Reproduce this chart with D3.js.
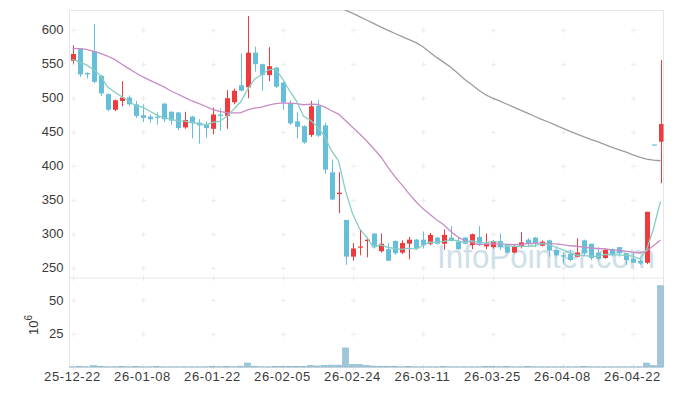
<!DOCTYPE html>
<html><head><meta charset="utf-8">
<script src="https://cdn.jsdelivr.net/npm/d3@7/dist/d3.min.js"></script>
<style>
body{margin:0;background:#fff}
svg{display:block}
text{font-family:"Liberation Sans",Arial,sans-serif}
</style>
</head><body>
<svg id="chart" width="673" height="396"></svg>
<script>
const dates = ["25-12-22","25-12-23","25-12-24","25-12-26","25-12-29","25-12-30","26-01-02","26-01-05","26-01-06","26-01-07",
"26-01-08","26-01-09","26-01-12","26-01-13","26-01-14","26-01-15","26-01-16","26-01-19","26-01-20","26-01-21",
"26-01-22","26-01-23","26-01-26","26-01-27","26-01-28","26-01-29","26-01-30","26-02-02","26-02-03","26-02-04",
"26-02-05","26-02-06","26-02-09","26-02-10","26-02-11","26-02-12","26-02-13","26-02-19","26-02-20","26-02-23",
"26-02-24","26-02-25","26-02-26","26-02-27","26-03-03","26-03-04","26-03-05","26-03-06","26-03-09","26-03-10",
"26-03-11","26-03-12","26-03-13","26-03-16","26-03-17","26-03-18","26-03-19","26-03-20","26-03-23","26-03-24",
"26-03-25","26-03-26","26-03-27","26-03-30","26-03-31","26-04-01","26-04-02","26-04-03","26-04-06","26-04-07",
"26-04-08","26-04-09","26-04-10","26-04-13","26-04-14","26-04-15","26-04-16","26-04-17","26-04-20","26-04-21",
"26-04-22","26-04-23","26-04-24","26-04-27","26-04-28"];

const open  = [554,572,536,568,532,505,482,495,500,490,474,472,472,491,479,478,456,472,463,461,
454,475,473,493,518,515,566,549,533,544,522,492,465,458,445,488,459,390,358,320,
266,280,289,300,274,277,289,272,285,291,291,285,294,285,294,288,294,283,295,281,
280,289,281,272,281,291,294,282,290,276,268,270,266,290,285,272,264,277,280,271,
263,260,257,431,435];
const high  = [577,573,537,608,533,506,497,524,503,495,490,475,478,492,480,479,479,473,468,465,
485,484,511,513,565,620,575,550,574,545,523,496,479,459,495,496,463,409,390,320,
286,306,294,300,300,286,290,290,295,292,303,301,295,306,311,295,295,300,311,300,
290,300,283,283,302,293,295,290,291,276,272,276,293,291,285,280,278,278,280,271,
271,263,332,431,555];
const low   = [550,530,528,521,502,480,480,487,487,470,464,463,460,464,460,452,454,440,432,441,
446,451,454,490,509,499,538,510,524,514,482,460,440,432,442,442,388,349,330,254,
260,268,265,278,272,260,269,270,262,276,278,283,284,276,288,276,284,277,282,277,
278,276,271,271,278,280,280,281,266,266,256,259,265,268,261,261,263,266,266,254,
257,254,255,431,374];
const close = [564,534,534,523,506,482,496,500,490,473,470,468,471,468,466,455,467,462,459,455,
475,473,499,510,510,566,549,533,546,516,493,462,457,434,487,444,394,350,360,266,
278,281,291,282,285,260,271,286,291,278,283,298,285,298,289,277,285,299,285,285,
288,280,272,281,287,285,285,288,275,268,266,261,272,271,264,263,276,269,271,261,
257,256,332,431,461];
// volume in millions of shares
const volume = [0.2,0.6,0.2,1.0,0.6,0.2,0.2,0.5,0.2,0.5,0.2,0.2,0.5,0.2,0.2,0.2,0.2,0.2,0.2,0.2,
0.5,0.2,0.5,0.2,0.6,3.0,0.6,0.2,0.2,0.5,0.5,0.5,0.5,0.5,1.2,0.8,1.3,1.4,1.4,14.3,
2.0,2.0,1.3,0.7,0.6,0.6,0.6,0.2,0.5,0.2,0.2,0.2,0.2,0.5,0.2,0.2,0.2,0.2,0.2,0.5,
0.5,0.2,0.5,0.2,0.2,0.5,0.2,0.2,0.2,0.2,0.2,0.2,0.2,0.5,0.2,0.2,0.2,0.2,0.2,0.2,
0.2,0.2,3.0,1.0,61.0];
const ma5 = [556,552,548,541,532.2,515.8,508.2,501.4,494.8,488.2,485.8,480.2,474.4,470,468.6,465.6,465.4,463.6,461.8,459.6,
463.6,464.8,472.2,482.4,493.4,511.6,526.8,533.6,540.8,542,527.4,510,494.8,472.4,466.6,456.8,443.2,421.8,407,362.8,
329.6,307,295.2,279.6,283.4,279.8,277.8,276.8,278.6,277.2,281.8,287.2,287,288.4,290.6,289.4,286.8,289.6,287,286.2,
288.4,287.4,282,281.2,281.6,281,282,285.2,284,280.2,276.4,271.6,268.4,267.6,266.8,266.2,269.2,268.6,268.6,268,
266.8,262.8,275.4,307.4,347.4];
const ma20 = [572.3,571.8,570.8,567.9,565,561,556.1,549.3,542.9,536.5,530.6,525.7,520.8,516,510,505.2,500.3,495.3,491.4,487.2,
482.7,479.7,477.9,477.3,477.5,481.7,484.3,486,488.8,490.9,492.1,491.8,491.1,489.4,490.4,489.9,486.2,480.6,475.7,466.2,
456.4,446.8,436.4,425,413.7,398.4,384.5,372.2,359.4,347.5,337,328.8,320.2,313.4,303.5,295.2,289.7,287.2,283.4,284.4,
284.9,284.8,283.9,283.8,283.9,285.2,285.9,286,285.2,284.7,283.8,282,281.3,280,278.7,278,277.6,276.1,275.4,274.2,
272.6,271.4,274.4,281.9,290.6];
const ma60 = [null,null,null,null,null,null,null,null,null,null,null,null,null,null,null,null,null,null,null,null,
null,null,null,null,null,null,null,null,null,null,null,null,null,null,null,null,null,null,633,628.5,
624,619,614,609,604,599,594.5,590,585.5,581,575,567,559,552,545,536,527,519,511,504,
499,495,490.5,486,481.5,477,472.5,468,464,459.5,455,450.5,446.5,442.5,438.5,435,431,427,423.5,420,
416,412.5,409.5,408,407];
const priceTicks = [250,300,350,400,450,500,550,600];
const volumeTicks = [25,50];
const dateTicks = ["25-12-22","26-01-08","26-01-22","26-02-05","26-02-24","26-03-11","26-03-25","26-04-08","26-04-22"];

const bars = dates.map((d,i)=>({d, o:open[i], h:high[i], l:low[i], c:close[i], v:volume[i], m5:ma5[i], m20:ma20[i], m60:ma60[i]}));

const svg = d3.select("#chart");
const L = 69.5, R = 663.5, T = 10.5, MID = 278, B = 367;
const x = d3.scaleBand().domain(dates).range([69, 664]).padding(0);
const xc = d => x(d) + x.bandwidth()/2;
const yP = d3.scaleLinear().domain([234.6, 628.7]).range([MID, 10]);
const yV = d3.scaleLinear().domain([0, 66.8]).range([B, MID]);

const RED = "#ef3b3e", BLUE = "#66bfd8", GRID = "#ececec";

svg.append("defs").append("clipPath").attr("id","clipP")
  .append("rect").attr("x",L).attr("y",10).attr("width",R-L).attr("height",MID-10);

// grid crosses
const gGrid = svg.append("g").attr("stroke",GRID).attr("stroke-width",1);
const crossAt = (cx, cy) => {
  gGrid.append("line").attr("x1",cx-2.5).attr("x2",cx+2.5).attr("y1",cy).attr("y2",cy);
  gGrid.append("line").attr("x1",cx).attr("x2",cx).attr("y1",cy-2.5).attr("y2",cy+2.5);
};
dateTicks.forEach(dt => {
  const cx = Math.round(xc(dt)) + 0.5;
  priceTicks.forEach(p => crossAt(cx, Math.round(yP(p)) + 0.5));
  volumeTicks.forEach(v => crossAt(cx, Math.round(yV(v)) + 0.5));
  gGrid.append("line").attr("x1",cx).attr("x2",cx).attr("y1",MID-3).attr("y2",MID+3);
  gGrid.append("line").attr("x1",cx).attr("x2",cx).attr("y1",B-3).attr("y2",B+3);
});

// panel frame
const gF = svg.append("g").attr("stroke","#e6e6e6").attr("fill","none");
gF.append("rect").attr("x",L).attr("y",T).attr("width",R-L).attr("height",MID-T);
gF.append("line").attr("x1",L).attr("x2",R).attr("y1",B+0.5).attr("y2",B+0.5).attr("stroke","#dcdcdc");
gF.append("line").attr("x1",L).attr("x2",L).attr("y1",MID).attr("y2",B);
gF.append("line").attr("x1",R).attr("x2",R).attr("y1",MID).attr("y2",B);

// watermark
svg.append("text").attr("x",437).attr("y",268)
  .attr("font-size",34).attr("textLength",218).attr("lengthAdjust","spacingAndGlyphs")
  .attr("fill","#c3d8e5").attr("opacity",0.8)
  .style("font-family","'Liberation Sans Narrow','Liberation Sans',sans-serif")
  .text("InfoPointer.com");

// candles
const gC = svg.append("g").attr("clip-path","url(#clipP)");
const cg = gC.selectAll("g.c").data(bars).join("g")
  .attr("stroke", d => d.c > d.o ? RED : BLUE)
  .attr("fill", d => d.c > d.o ? RED : BLUE);
cg.append("line")
  .attr("x1", d => Math.round(xc(d.d)) + 0.5).attr("x2", d => Math.round(xc(d.d)) + 0.5)
  .attr("y1", d => yP(d.h)).attr("y2", d => yP(d.l));
cg.append("rect")
  .attr("stroke","none")
  .attr("x", d => Math.round(xc(d.d)) - 2)
  .attr("width", 5)
  .attr("y", d => yP(Math.max(d.o,d.c)))
  .attr("height", d => Math.max(1.2, Math.abs(yP(d.o) - yP(d.c))));

// moving averages
const line = key => d3.line().defined(d => d[key] != null).x(d => xc(d.d)).y(d => yP(d[key]));
const gM = svg.append("g").attr("clip-path","url(#clipP)").attr("fill","none").attr("stroke-width",1.3);
gM.append("path").datum(bars).attr("d", line("m60")).attr("stroke","#9c9c9c");
gM.append("path").datum(bars).attr("d", line("m20")).attr("stroke","#c98bc6");
gM.append("path").datum(bars).attr("d", line("m5")).attr("stroke","#86cdc4");

// volume bars
svg.append("g").selectAll("rect").data(bars).join("rect")
  .attr("x", d => x(d.d) + 0.5).attr("width", x.bandwidth() - 1)
  .attr("y", d => yV(d.v)).attr("height", d => B - yV(d.v))
  .attr("fill","#9fc6d9").attr("stroke","#8ab8cf").attr("stroke-width",0.6);

// axes
const styleAxis = g => {
  g.select(".domain").remove();
  g.selectAll("text").attr("fill","#3a3a3a").attr("font-size",13)
    .style("font-family","'Liberation Sans',Arial,sans-serif");
};
svg.append("g").attr("transform",`translate(${L},0)`)
  .call(d3.axisLeft(yP).tickValues(priceTicks).tickSize(0).tickPadding(6)).call(styleAxis);
svg.append("g").attr("transform",`translate(${L},0)`)
  .call(d3.axisLeft(yV).tickValues(volumeTicks).tickSize(0).tickPadding(6)).call(styleAxis);
svg.append("g").attr("transform",`translate(0,${B})`)
  .call(d3.axisBottom(x).tickValues(dateTicks).tickSize(0).tickPadding(5)).call(styleAxis)
  .selectAll("text").attr("letter-spacing","0.6px");

// unit label
const ul = svg.append("text").attr("transform","translate(38,325) rotate(-90)")
  .attr("text-anchor","middle").attr("font-size",13).attr("fill","#3a3a3a");
ul.append("tspan").text("10");
ul.append("tspan").attr("font-size",10).attr("dy",-6).text("6");
</script>
</body></html>
